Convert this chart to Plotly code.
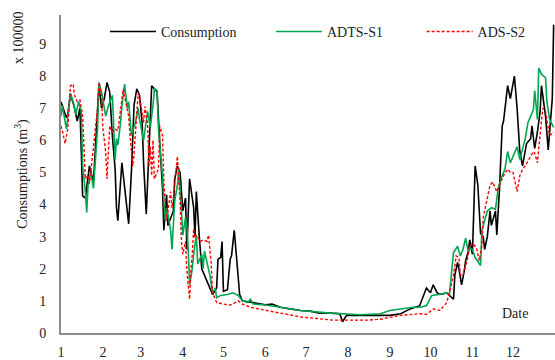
import pandas as pd
import plotly.graph_objects as go

# Day-of-year index (0 = 1 January) and values in units of 100000 m3
cons_day = [0, 1, 4, 5, 7, 10, 12, 14, 16, 18, 20, 21, 24, 27, 28, 30, 32, 34, 36, 38,
            40, 41, 42, 45, 47, 50, 52, 54, 56, 58, 60, 61, 63, 65, 67, 69, 71, 73, 75, 76,
            78, 79, 81, 83, 84, 86, 88, 90, 92, 93, 95, 98, 99, 100, 102, 104, 108, 112, 115, 116,
            118, 119, 120, 123, 125, 126, 128, 130, 132, 134, 140, 146, 151, 156, 162, 169, 177, 184, 191, 199,
            206, 208, 211, 221, 232, 243, 251, 258, 265, 270, 273, 275, 278, 280, 285, 287, 290, 291, 293, 294,
            296, 298, 299, 301, 302, 304, 305, 306, 308, 310, 312, 313, 315, 317, 318, 321, 322, 324, 326, 327,
            330, 332, 335, 337, 339, 341, 344, 347, 348, 350, 352, 354, 355, 358, 360, 361, 363, 364]
cons_val = [7.2, 7.07, 6.7, 6.8, 7.45, 7.0, 6.6, 7.0, 4.26, 4.2, 5.0, 5.2, 4.7, 6.75, 7.7, 7.0, 7.3, 7.8, 7.5, 6.1,
            5.1, 3.9, 3.5, 5.3, 4.5, 3.4, 5.0, 7.1, 7.6, 7.4, 6.5, 5.3, 3.7, 5.5, 7.7, 7.6, 7.5, 5.9, 4.5, 3.2,
            4.3, 3.35, 3.6, 3.8, 4.8, 5.2, 5.0, 3.8, 4.2, 2.6, 4.8, 3.9, 3.0, 4.4, 3.1, 2.0, 1.6, 1.2, 1.4, 2.3,
            2.35, 2.85, 1.3, 1.35, 2.3, 2.4, 3.2, 2.25, 1.2, 1.0, 0.95, 0.9, 0.88, 0.9, 0.8, 0.75, 0.7, 0.68, 0.62, 0.62,
            0.6, 0.35, 0.55, 0.55, 0.55, 0.55, 0.6, 0.75, 0.85, 1.4, 1.25, 1.5, 1.25, 1.2, 1.25, 1.17, 1.05, 1.8, 2.2, 2.0,
            1.5, 1.95, 2.25, 2.55, 2.9, 2.45, 4.1, 5.2, 4.6, 3.1, 3.0, 2.6, 3.0, 3.8, 3.35, 3.8, 3.05, 4.5, 6.45, 6.6,
            7.7, 7.3, 8.0, 7.0, 5.65, 5.2, 5.9, 6.05, 6.45, 5.75, 6.25, 6.9, 7.7, 6.75, 5.7, 6.2, 7.3, 9.6]

adts_day = [0, 1, 4, 5, 7, 9, 11, 13, 15, 16, 18, 19, 20, 22, 24, 27, 28, 30, 33, 35,
            38, 39, 40, 41, 42, 44, 45, 47, 49, 50, 52, 55, 57, 58, 61, 64, 66, 68, 69, 71,
            72, 73, 75, 76, 77, 78, 81, 82, 83, 84, 86, 87, 89, 90, 92, 93, 94, 95, 97, 98,
            100, 101, 104, 105, 106, 108, 110, 112, 114, 115, 118, 123, 127, 131, 134, 138, 140, 142, 151, 162,
            177, 199, 214, 221, 236, 243, 260, 265, 270, 274, 279, 285, 287, 290, 293, 295, 297, 299, 301, 302,
            304, 306, 310, 311, 315, 318, 321, 323, 326, 328, 330, 332, 335, 337, 339, 343, 345, 347, 349, 350,
            352, 353, 355, 358, 359, 361, 363, 364]
adts_val = [6.75, 7.07, 6.35, 6.7, 7.45, 7.2, 6.8, 7.2, 6.9, 5.2, 4.4, 3.75, 4.6, 5.0, 4.5, 6.35, 7.8, 7.5, 6.75, 7.07,
            7.4, 6.35, 5.4, 6.05, 5.85, 6.55, 7.07, 7.75, 7.0, 7.2, 6.15, 6.55, 7.0, 6.65, 6.0, 6.9, 6.4, 7.1, 7.6, 7.55,
            6.35, 5.85, 4.9, 4.1, 3.5, 3.9, 3.2, 2.6, 3.35, 4.1, 4.6, 5.1, 3.8, 3.05, 3.6, 3.3, 2.6, 1.5, 2.0, 2.45,
            3.05, 2.15, 2.45, 2.0, 2.55, 2.15, 1.8, 1.25, 1.4, 1.1, 1.17, 1.2, 1.25, 1.17, 1.0, 0.95, 1.05, 0.9, 0.87, 0.8,
            0.7, 0.62, 0.6, 0.57, 0.6, 0.7, 0.8, 0.8, 0.85, 1.17, 1.2, 1.25, 1.2, 2.5, 2.7, 2.4, 2.6, 2.95, 2.5, 2.65,
            2.6, 2.35, 2.1, 3.2, 3.8, 3.9, 3.85, 4.5, 4.9, 5.1, 5.65, 5.3, 5.6, 5.8, 5.4, 6.05, 6.55, 6.75, 6.95, 7.55,
            6.65, 8.25, 8.05, 7.95, 7.2, 6.65, 6.45, 6.4]

ads_day = [0, 1, 3, 5, 7, 9, 10, 12, 14, 16, 17, 18, 20, 21, 24, 27, 28, 30, 31, 33,
           34, 35, 36, 38, 40, 42, 45, 46, 47, 50, 51, 53, 54, 56, 57, 58, 60, 61, 62, 64,
           65, 66, 67, 68, 69, 72, 73, 75, 76, 77, 78, 81, 82, 83, 86, 88, 89, 90, 92, 93,
           95, 96, 97, 98, 99, 100, 103, 105, 108, 109, 111, 112, 115, 120, 125, 129, 131, 134, 140, 152,
           164, 177, 189, 201, 214, 226, 236, 245, 251, 265, 270, 275, 280, 285, 287, 290, 292, 294, 295, 297,
           300, 302, 304, 307, 309, 311, 312, 315, 317, 319, 322, 324, 327, 330, 332, 334, 337, 339, 341, 343,
           347, 349, 350, 352, 353, 354, 355, 356, 358, 359, 361, 363, 364]
ads_val = [6.45, 6.3, 5.9, 6.35, 7.7, 7.75, 7.4, 7.2, 7.25, 6.75, 5.75, 4.8, 4.9, 4.65, 5.8, 7.0, 7.8, 7.4, 6.35, 5.65,
           4.8, 5.65, 6.45, 6.25, 6.35, 6.3, 7.3, 7.6, 7.35, 6.75, 6.15, 5.2, 5.6, 7.0, 7.45, 7.4, 6.9, 6.55, 7.05, 6.5,
           5.2, 5.8, 4.9, 6.0, 4.8, 5.1, 6.45, 6.15, 4.7, 3.9, 3.5, 4.4, 3.9, 4.2, 5.5, 4.1, 2.85, 2.45, 2.85, 1.95,
           1.05, 2.0, 2.45, 3.25, 2.95, 3.05, 2.85, 2.9, 2.85, 3.05, 2.15, 1.25, 0.95, 0.9, 0.87, 0.95, 1.0, 0.9, 0.8, 0.7,
           0.6, 0.5, 0.45, 0.4, 0.4, 0.4, 0.43, 0.5, 0.55, 0.6, 0.58, 0.75, 0.7, 0.95, 1.25, 1.8, 2.4, 2.35, 1.8, 1.8,
           2.25, 2.7, 2.8, 2.65, 2.25, 2.75, 3.6, 4.2, 4.6, 4.7, 4.4, 4.6, 4.9, 5.1, 5.0, 5.0, 4.4, 4.9, 5.1, 5.2,
           5.5, 5.65, 5.6, 5.3, 5.75, 6.15, 6.55, 7.0, 6.9, 6.65, 6.15, 6.2, 6.25]

month_labels = ["1", "2", "3", "4", "5", "6", "7", "8", "9", "10", "11", "12"]
y_ticks = [0, 1, 2, 3, 4, 5, 6, 7, 8, 9]

base = pd.Timestamp("2015-01-01")
def to_dates(days):
    return base + pd.to_timedelta(days, unit="D")

month_starts = [pd.Timestamp(2015, m, 1) for m in range(1, 13)]

FONT = "Liberation Serif, Times New Roman, serif"
TXT = "#222222"

fig = go.Figure()
fig.add_trace(go.Scatter(x=to_dates(cons_day), y=cons_val, mode="lines", name="Consumption",
                         line=dict(color="#000000", width=1.6), legend="legend"))
fig.add_trace(go.Scatter(x=to_dates(adts_day), y=adts_val, mode="lines", name="ADTS-S1",
                         line=dict(color="#00a651", width=1.6), legend="legend2"))
fig.add_trace(go.Scatter(x=to_dates(ads_day), y=ads_val, mode="lines", name="ADS-S2",
                         line=dict(color="#ff0000", width=1.4, dash="3px,2px"), legend="legend3"))

leg_common = dict(orientation="h", yanchor="middle", xanchor="left", y=0.947, itemwidth=46,
                  bgcolor="rgba(0,0,0,0)", font=dict(size=14, color=TXT))

fig.update_layout(
    width=555, height=360,
    margin=dict(l=61, r=0, t=15, b=24),
    paper_bgcolor="white", plot_bgcolor="white",
    font=dict(family=FONT, size=14, color=TXT),
    legend=dict(x=0.089, **leg_common),
    legend2=dict(x=0.425, **leg_common),
    legend3=dict(x=0.73, **leg_common),
    showlegend=True,
)
fig.update_xaxes(type="date", range=[base, pd.Timestamp("2016-01-01")],
                 tickvals=month_starts, ticktext=month_labels,
                 showgrid=False, zeroline=False, showline=True, linecolor="#8c8c8c", linewidth=2,
                 ticks="", ticklabelstandoff=5, tickfont=dict(size=14))
fig.update_yaxes(range=[0, 9.9], tickvals=y_ticks, showgrid=False, zeroline=False,
                 showline=True, linecolor="#8c8c8c", linewidth=2, ticks="",
                 ticklabelstandoff=10, tickfont=dict(size=14),
                 title=dict(text="Consumptions (m<sup>3</sup>)", font=dict(size=14), standoff=8))

fig.add_annotation(text="x 100000", xref="paper", yref="paper", x=-0.085, y=0.928,
                   textangle=-90, showarrow=False, font=dict(size=14), xanchor="center", yanchor="middle")
fig.add_annotation(text="Date", xref="paper", yref="paper", x=0.92, y=0.062,
                   showarrow=False, font=dict(size=14), xanchor="center", yanchor="middle")

fig.write_html("out.html")
